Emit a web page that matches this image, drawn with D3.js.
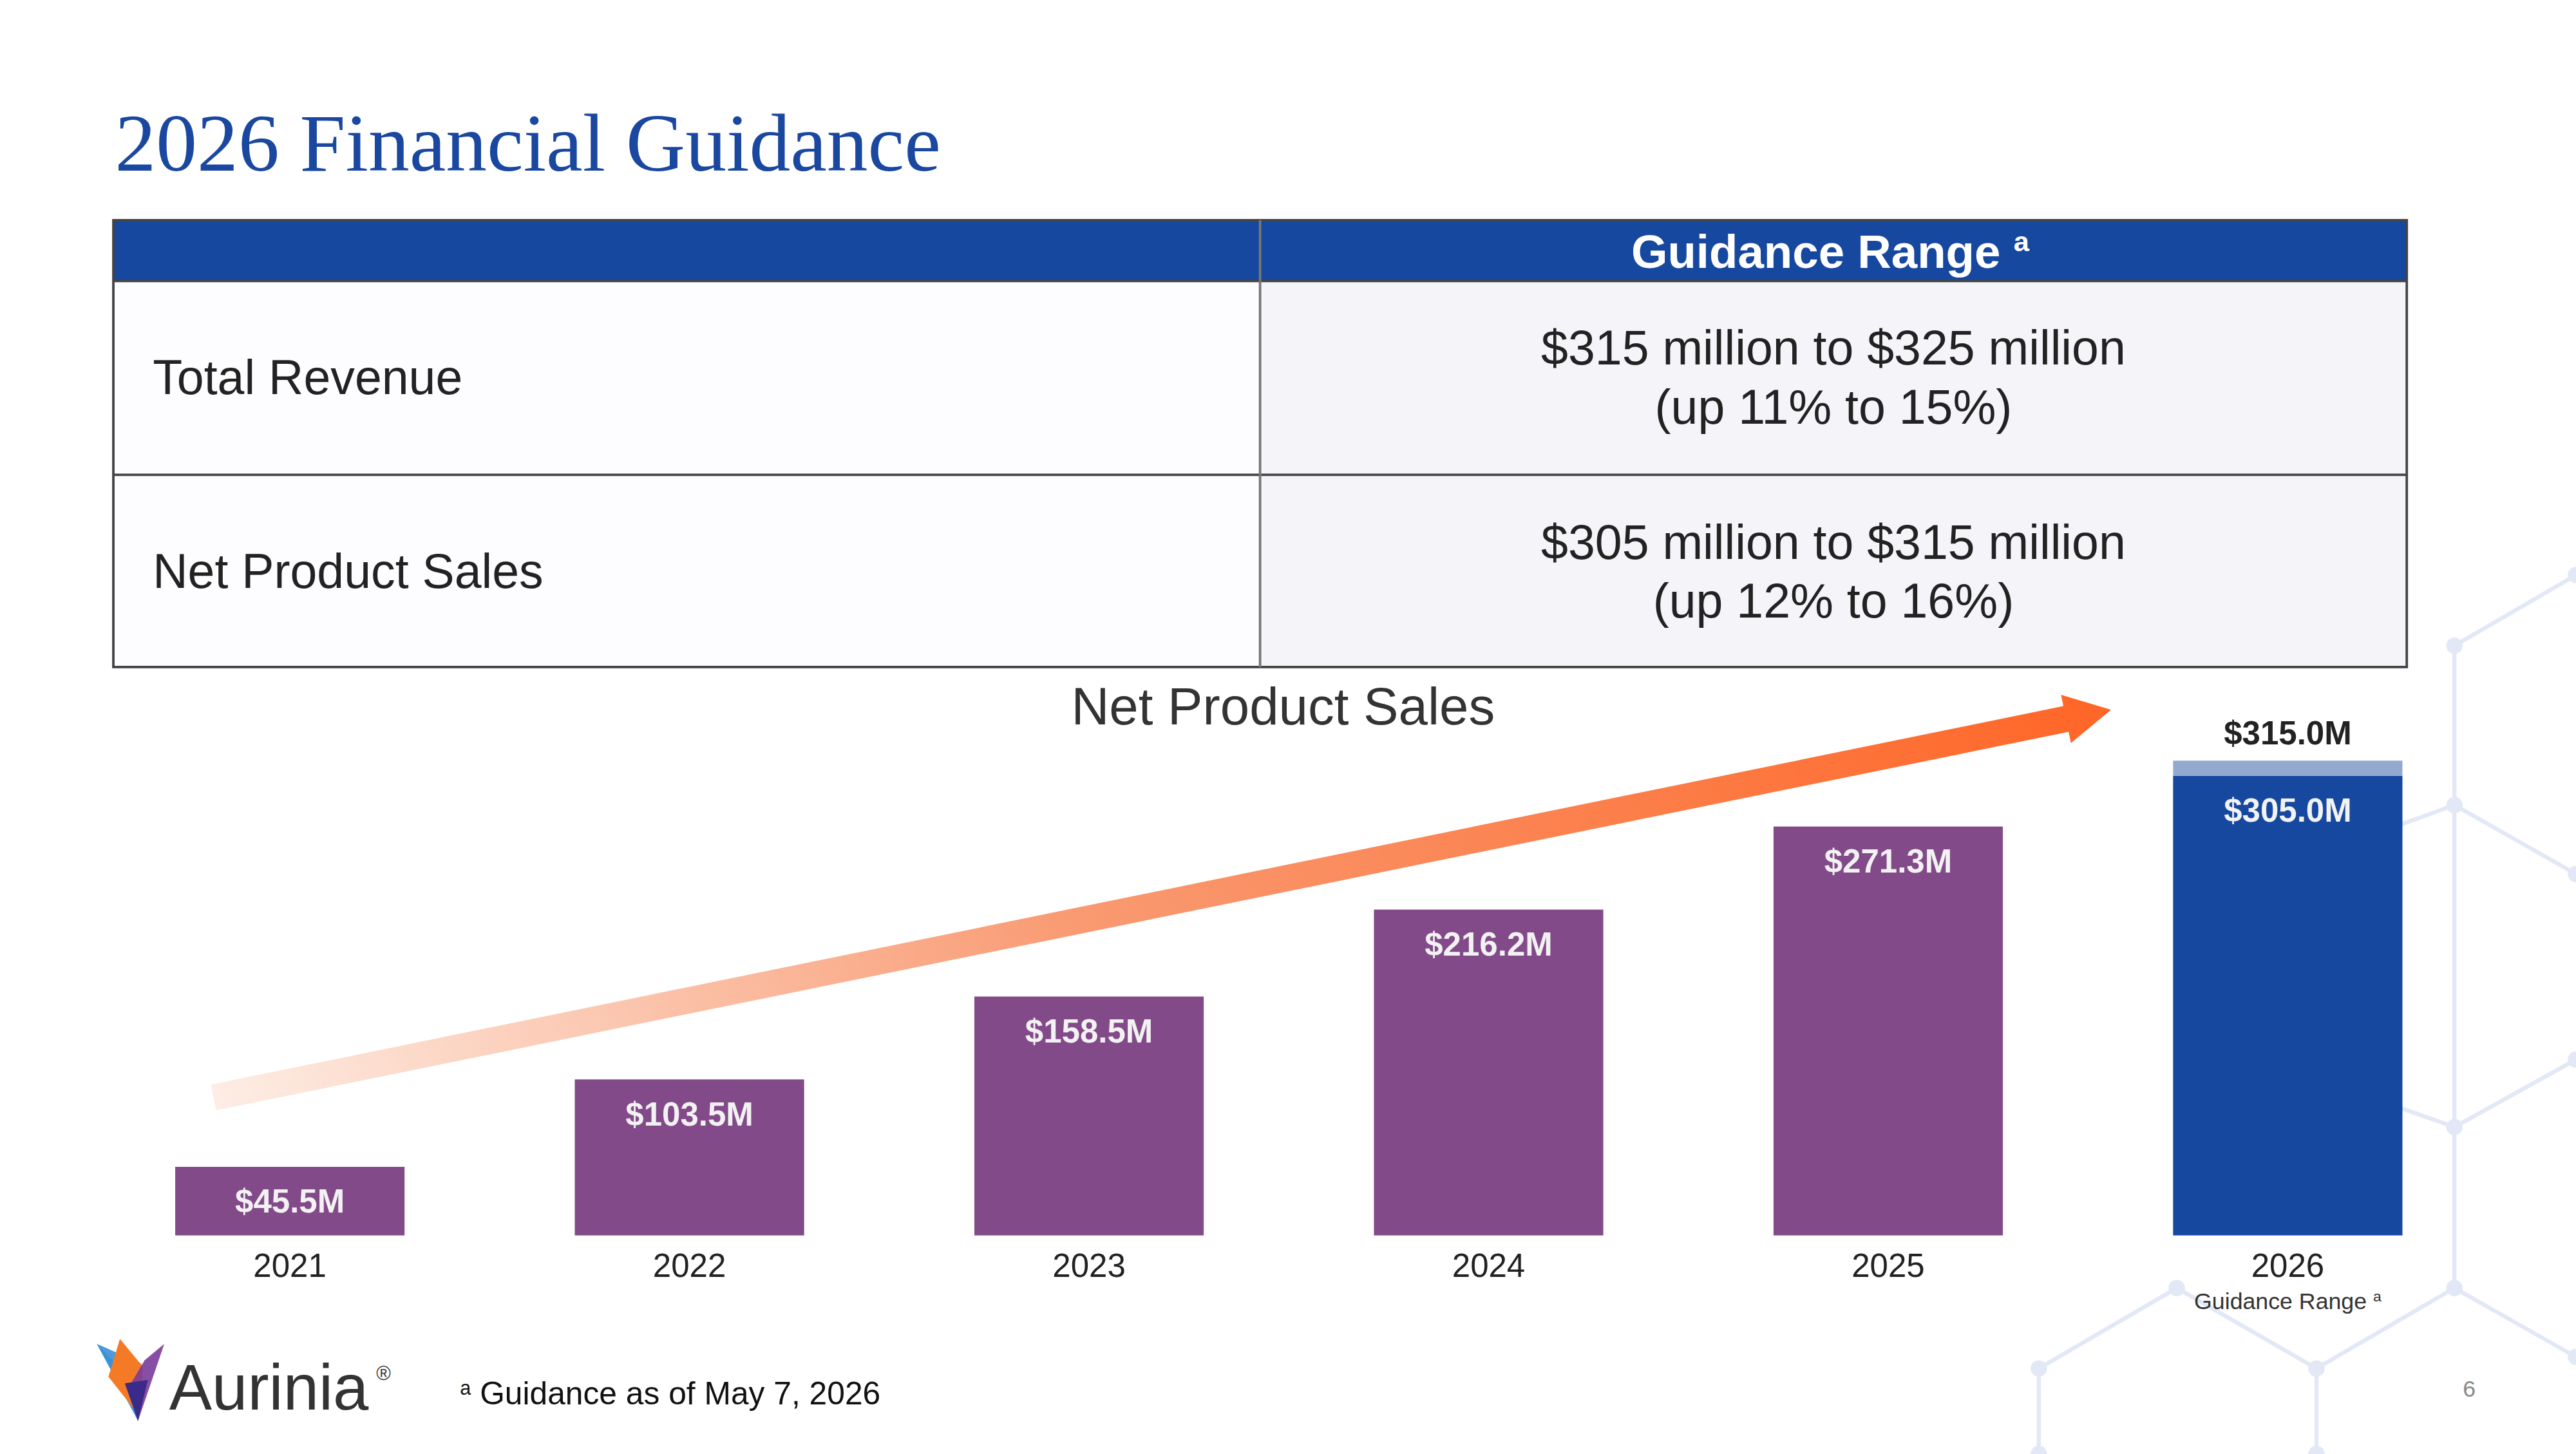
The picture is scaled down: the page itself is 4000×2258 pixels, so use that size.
<!DOCTYPE html>
<html><head><meta charset="utf-8">
<script src="https://cdn.jsdelivr.net/npm/d3@7"></script>
<style>body{margin:0;background:#fff}svg{display:block}</style></head>
<body><svg id="c" width="4000" height="2258" viewBox="0 0 1568 885"></svg>
<script>
const years = ["2021","2022","2023","2024","2025","2026"];
const sales = [45.5,103.5,158.5,216.2,271.3,305.0];
const guidanceHigh = 315.0;
const rowLabels = ["Total Revenue","Net Product Sales"];
const rowLine1 = ["$315 million to $325 million","$305 million to $315 million"];
const rowLine2 = ["(up 11% to 15%)","(up 12% to 16%)"];

const svg = d3.select("#c");
const F = "Arial, 'Liberation Sans', sans-serif";
svg.append("rect").attr("width",1568).attr("height",885).attr("fill","#fff");

// background hex network
const hexC = "#e2e8f6";
const pts = [[1494,393],[1568,350],[1494,490],[1568,532],[1494,686],[1568,645],[1494,784],[1568,826],[1410,833],[1325,784],[1241,833],[1410,885],[1241,885]];
const segs = [[0,1],[0,2],[2,3],[2,4],[4,5],[4,6],[6,7],[6,8],[8,9],[9,10],[8,11],[10,12]];
const g0 = svg.append("g");
segs.forEach(s=>g0.append("line").attr("x1",pts[s[0]][0]).attr("y1",pts[s[0]][1]).attr("x2",pts[s[1]][0]).attr("y2",pts[s[1]][1]).attr("stroke",hexC).attr("stroke-width",2.5));
g0.append("line").attr("x1",1494).attr("y1",490).attr("x2",1420).attr("y2",517).attr("stroke",hexC).attr("stroke-width",2.5);
g0.append("line").attr("x1",1494).attr("y1",686).attr("x2",1420).attr("y2",660).attr("stroke",hexC).attr("stroke-width",2.5);
pts.forEach(p=>g0.append("circle").attr("cx",p[0]).attr("cy",p[1]).attr("r",5).attr("fill",hexC));

// title
svg.append("text").attr("x",70).attr("y",104).attr("font-family","'Liberation Serif','DejaVu Serif',serif")
  .attr("font-size",50).attr("fill","#1a47a0").text("2026 Financial Guidance");

// table
const T = svg.append("g");
T.append("rect").attr("x",69).attr("y",134).attr("width",1396).attr("height",37).attr("fill","#1748a0");
T.append("rect").attr("x",69).attr("y",171).attr("width",698).attr("height",235).attr("fill","#fdfdff");
T.append("rect").attr("x",767).attr("y",171).attr("width",698).attr("height",235).attr("fill","#f5f4f9");
T.append("rect").attr("x",69).attr("y",134).attr("width",1396).attr("height",272).attr("fill","none").attr("stroke","#444").attr("stroke-width",1.5);
[171,289].forEach(y=>T.append("line").attr("x1",69).attr("x2",1465).attr("y1",y).attr("y2",y).attr("stroke","#444").attr("stroke-width",1.5));
T.append("line").attr("x1",767).attr("x2",767).attr("y1",134).attr("y2",406).attr("stroke","#777").attr("stroke-width",1.5);
const ht = T.append("text").attr("x",1114).attr("y",163).attr("text-anchor","middle").attr("font-family",F).attr("font-weight","bold").attr("font-size",28.5).attr("fill","#fff");
ht.append("tspan").text("Guidance Range ");
ht.append("tspan").attr("font-size",17).attr("dy",-10).text("a");
rowLabels.forEach((l,i)=>{
  const y0 = 171 + i*118;
  T.append("text").attr("x",93).attr("y",y0+69).attr("font-family",F).attr("font-size",29.5).attr("fill","#222").text(l);
  T.append("text").attr("x",1116).attr("y",y0+51).attr("text-anchor","middle").attr("font-family",F).attr("font-size",29.5).attr("fill","#222").text(rowLine1[i]);
  T.append("text").attr("x",1116).attr("y",y0+87).attr("text-anchor","middle").attr("font-family",F).attr("font-size",29.5).attr("fill","#222").text(rowLine2[i]);
});

// chart
svg.append("text").attr("x",781).attr("y",441).attr("text-anchor","middle").attr("font-family",F).attr("font-size",32).attr("fill","#333").text("Net Product Sales");
const x = d3.scaleBand().domain(years).range([58,1511]).paddingInner(0.426).paddingOuter(0.2);
const y = d3.scaleLinear().domain([0,315]).range([752,463]);
const data = years.map((yr,i)=>({yr,v:sales[i]}));

// arrow
const defs = svg.append("defs");
const gr = defs.append("linearGradient").attr("id","ag").attr("gradientUnits","userSpaceOnUse").attr("x1",130).attr("y1",668).attr("x2",1285).attr("y2",432);
gr.append("stop").attr("offset",0).attr("stop-color","#fdeee6");
gr.append("stop").attr("offset",0.45).attr("stop-color","#f99a72");
gr.append("stop").attr("offset",1).attr("stop-color","#ff6424");
const ax0=130, ay0=668, ax1=1285, ay1=432;
const ang = Math.atan2(ay1-ay0, ax1-ax0), L = Math.hypot(ax1-ax0, ay1-ay0);
const hw=8, hh=15, hl=28;
const ag = svg.append("g").attr("transform",`translate(${ax0},${ay0}) rotate(${ang*180/Math.PI})`);
ag.append("path").attr("d",`M0,${-hw} L${L-hl},${-hw} L${L-hl},${-hh} L${L},0 L${L-hl},${hh} L${L-hl},${hw} L0,${hw} Z`).attr("fill","url(#ag)");

const B = svg.append("g");
B.selectAll("rect.b").data(data).join("rect").attr("class","b")
  .attr("x",d=>x(d.yr)).attr("width",x.bandwidth()).attr("y",d=>y(d.v)).attr("height",d=>y(0)-y(d.v))
  .attr("fill",d=>d.yr==="2026"?"#1748a0":"#834a8a");
B.append("rect").attr("x",x("2026")).attr("width",x.bandwidth()).attr("y",y(guidanceHigh)).attr("height",y(sales[5])-y(guidanceHigh)).attr("fill","#94a9d0");
B.selectAll("text.v").data(data).join("text").attr("class","v")
  .attr("x",d=>x(d.yr)+x.bandwidth()/2).attr("y",d=>y(d.v)+28).attr("text-anchor","middle")
  .attr("font-family",F).attr("font-weight","bold").attr("font-size",20).attr("fill","#f2f2f2")
  .text(d=>"$"+d.v.toFixed(1)+"M");
B.append("text").attr("x",x("2026")+x.bandwidth()/2).attr("y",y(guidanceHigh)-10).attr("text-anchor","middle")
  .attr("font-family",F).attr("font-weight","bold").attr("font-size",20).attr("fill","#222").text("$"+guidanceHigh.toFixed(1)+"M");
const xa = svg.append("g").attr("transform","translate(0,752)").call(d3.axisBottom(x).tickSize(0).tickPadding(11));
xa.select(".domain").remove();
xa.selectAll("text").attr("font-family",F).attr("font-size",20).attr("fill","#222");
const gt = svg.append("text").attr("x",x("2026")+x.bandwidth()/2).attr("y",797).attr("text-anchor","middle").attr("font-family",F).attr("font-size",14).attr("fill","#333");
gt.append("tspan").text("Guidance Range ");
gt.append("tspan").attr("font-size",9).attr("dy",-5).text("a");

// logo
const lg = svg.append("g");
lg.append("path").attr("d","M59,818 L83,862 L78,838 Z").attr("fill","#2aa8e0");
lg.append("path").attr("d","M59,818 L84,865 L86,830 Z").attr("fill","#3c8fd6").attr("opacity",0.9);
lg.append("path").attr("d","M73,815 L66,838 L85,862 L87,832 Z").attr("fill","#f47a25");
lg.append("path").attr("d","M100,818 L88,828 L78,845 L84,865 Z").attr("fill","#7a3c9a").attr("opacity",0.9);
lg.append("path").attr("d","M76,842 L84,865 L90,840 Z").attr("fill","#3a2a8a");
lg.append("text").attr("x",103).attr("y",858).attr("font-family",F).attr("font-size",39).attr("fill","#333").text("Aurinia");
lg.append("text").attr("x",229).attr("y",840).attr("font-family",F).attr("font-size",12).attr("fill","#333").text("®");
const fn = svg.append("text").attr("x",280).attr("y",855).attr("font-family",F).attr("font-size",19.5).attr("fill","#111");
fn.append("tspan").attr("font-size",12).attr("dy",-6).text("a");
fn.append("tspan").attr("dy",6).text(" Guidance as of May 7, 2026");
svg.append("text").attr("x",1503).attr("y",850).attr("text-anchor","middle").attr("font-family",F).attr("font-size",14).attr("fill","#888").text("6");
</script></body></html>
